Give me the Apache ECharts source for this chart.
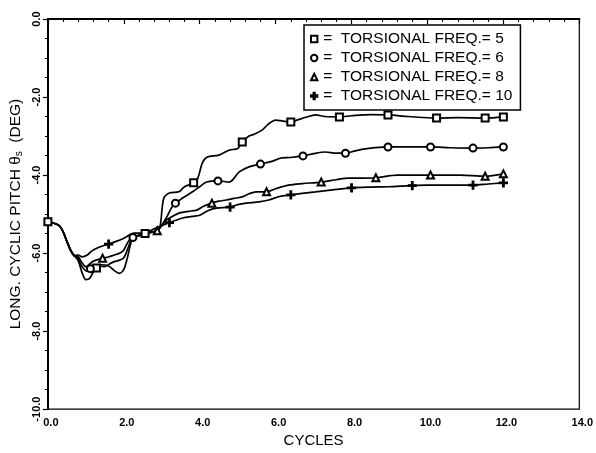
<!DOCTYPE html>
<html>
<head>
<meta charset="utf-8">
<script src="https://cdn.jsdelivr.net/npm/echarts@6/dist/echarts.min.js"></script>
<style>
html,body{margin:0;padding:0;background:#fff;}
#chart{width:596px;height:453px;}
</style>
</head>
<body>
<div id="chart"></div>
<script>
// Series names / legend
var seriesNames = ['=  TORSIONAL FREQ.= 5', '=  TORSIONAL FREQ.= 6', '=  TORSIONAL FREQ.= 8', '=  TORSIONAL FREQ.= 10'];
var xTicks = [0, 2, 4, 6, 8, 10, 12, 14];
var yTicks = [-10, -8, -6, -4, -2, 0];

// shared start of every curve [cycles, deg]
var startData = [[0,-5.2],[0.1,-5.22],[0.2,-5.25],[0.3,-5.3],[0.4,-5.45],[0.5,-5.7],[0.6,-5.93],[0.7,-6.07]];

var freq5 = [[0.8,-6.2],[0.9,-6.5],[1.0,-6.68],[1.1,-6.65],[1.2,-6.48],[1.28,-6.38],[1.4,-6.3],[1.6,-6.33],[1.75,-6.45],[1.88,-6.52],[2.0,-6.42],[2.1,-6.1],[2.2,-5.7],[2.3,-5.58],[2.45,-5.55],[2.56,-5.5],[2.7,-5.47],[2.85,-5.45],[2.95,-5.35],[3.05,-4.6],[3.2,-4.46],[3.45,-4.43],[3.6,-4.3],[3.84,-4.2],[3.95,-4.08],[4.07,-3.69],[4.2,-3.54],[4.5,-3.49],[4.78,-3.36],[5.0,-3.32],[5.12,-3.15],[5.3,-3.0],[5.45,-2.95],[5.64,-2.85],[5.8,-2.7],[6.0,-2.59],[6.2,-2.62],[6.4,-2.64],[6.6,-2.58],[6.8,-2.52],[7.05,-2.46],[7.3,-2.5],[7.68,-2.51],[8.0,-2.48],[8.5,-2.45],[8.96,-2.46],[9.5,-2.5],[10.24,-2.54],[10.8,-2.53],[11.52,-2.54],[12.0,-2.51]];

var freq6 = [[0.8,-6.15],[0.9,-6.35],[1.04,-6.47],[1.12,-6.4],[1.23,-6.3],[1.35,-6.33],[1.49,-6.35],[1.62,-6.28],[1.75,-6.22],[1.9,-6.18],[2.0,-6.12],[2.1,-5.9],[2.19,-5.67],[2.24,-5.6],[2.4,-5.55],[2.6,-5.49],[2.8,-5.45],[2.95,-5.35],[3.13,-5.08],[3.25,-4.85],[3.36,-4.72],[3.55,-4.59],[3.81,-4.43],[4.0,-4.3],[4.18,-4.18],[4.48,-4.15],[4.78,-4.18],[5.04,-3.92],[5.3,-3.79],[5.6,-3.72],[5.9,-3.65],[6.16,-3.56],[6.4,-3.55],[6.72,-3.51],[7.0,-3.45],[7.31,-3.41],[7.6,-3.44],[7.84,-3.44],[8.1,-3.38],[8.35,-3.33],[8.96,-3.28],[9.5,-3.28],[10.08,-3.28],[10.6,-3.3],[11.2,-3.31],[11.6,-3.3],[12.0,-3.28]];

var freq8 = [[0.8,-6.1],[0.9,-6.25],[1.0,-6.35],[1.1,-6.28],[1.17,-6.22],[1.3,-6.17],[1.44,-6.13],[1.6,-6.1],[1.75,-6.05],[1.9,-6.0],[2.0,-5.92],[2.14,-5.67],[2.3,-5.57],[2.5,-5.52],[2.7,-5.47],[2.88,-5.43],[3.0,-5.3],[3.13,-5.15],[3.3,-5.05],[3.47,-4.97],[3.7,-4.93],[3.92,-4.9],[4.1,-4.8],[4.32,-4.72],[4.5,-4.67],[4.7,-4.64],[4.9,-4.6],[5.12,-4.56],[5.3,-4.48],[5.48,-4.43],[5.76,-4.43],[6.0,-4.35],[6.34,-4.26],[6.7,-4.22],[7.2,-4.18],[7.6,-4.12],[7.91,-4.08],[8.3,-4.08],[8.64,-4.07],[9.2,-4.0],[9.6,-4.0],[10.08,-4.0],[10.86,-4.0],[11.52,-4.03],[12.0,-3.97]];

var freq10 = [[0.8,-6.05],[0.9,-6.1],[1.04,-6.05],[1.15,-5.95],[1.3,-5.87],[1.5,-5.8],[1.6,-5.77],[1.8,-5.7],[2.0,-5.62],[2.27,-5.49],[2.53,-5.49],[2.8,-5.38],[3.0,-5.3],[3.2,-5.22],[3.55,-5.1],[3.8,-5.06],[4.0,-5.03],[4.2,-4.92],[4.44,-4.85],[4.8,-4.82],[5.0,-4.76],[5.22,-4.72],[5.56,-4.69],[5.82,-4.64],[6.1,-4.55],[6.4,-4.51],[6.7,-4.47],[7.05,-4.43],[7.5,-4.38],[8.0,-4.33],[8.5,-4.31],[8.96,-4.3],[9.6,-4.27],[10.0,-4.26],[10.6,-4.26],[11.2,-4.26],[11.6,-4.23],[12.0,-4.2]];

// x positions carrying a marker symbol
var marks5 = [0,1.28,2.56,3.84,5.12,6.4,7.68,8.96,10.24,11.52,12];
var marks6 = [1.12,2.24,3.36,4.48,5.6,6.72,7.84,8.96,10.08,11.2,12];
var marks8 = [1.44,2.88,4.32,5.76,7.2,8.64,10.08,11.52,12];
var marks10 = [1.6,3.2,4.8,6.4,8.0,9.6,11.2,12];

var plusPath = 'path://M4,0H6V4H10V6H6V10H4V6H0V4H4Z';
var symbols = ['emptyRect', 'emptyCircle', 'emptyTriangle', plusPath];
var curves = [freq5, freq6, freq8, freq10];
var marks = [marks5, marks6, marks8, marks10];

function build(curve, mk) {
  var pts = startData.concat(curve);
  return pts.map(function (p) {
    var has = mk.some(function (m) { return Math.abs(m - p[0]) < 1e-6; });
    return has ? { value: p } : { value: p, symbol: 'none' };
  });
}

var series = curves.map(function (c, i) {
  return {
    name: seriesNames[i],
    type: 'line',
    data: build(c, marks[i]),
    symbol: symbols[i],
    symbolSize: i === 3 ? 8 : 7,
    showAllSymbol: true,
    smooth: 0.3,
    lineStyle: { color: '#000', width: 1.7 },
    itemStyle: { color: '#000', borderColor: '#000', borderWidth: 1.2 },
    emphasis: { disabled: true },
    z: 3
  };
});

var chart = echarts.init(document.getElementById('chart'), null, { renderer: 'canvas' });
var fontFam = '"Liberation Sans", Arial, sans-serif';
chart.setOption({
  animation: false,
  backgroundColor: '#fff',
  grid: { left: 47, right: 13, top: 19, bottom: 43, show: true, borderColor: '#000', borderWidth: 1.2, backgroundColor: 'transparent' },
  legend: {
    left: 304, top: 25,
    orient: 'vertical',
    data: seriesNames,
    padding: [6, 8, 6, 6],
    itemGap: 3,
    itemWidth: 8, itemHeight: 8,
    borderColor: '#000', borderWidth: 1.5,
    backgroundColor: '#fff',
    lineStyle: { width: 0, opacity: 0 },
    selectedMode: false,
    textStyle: { fontFamily: fontFam, fontSize: 15.5, color: '#000', lineHeight: 15, padding: [0, 0, 0, 0] }
  },
  xAxis: {
    type: 'value', min: 0, max: 14, interval: 2,
    name: 'CYCLES', nameLocation: 'middle', nameGap: 23,
    nameTextStyle: { fontFamily: fontFam, fontSize: 15, color: '#000' },
    axisLine: { lineStyle: { color: '#000', width: 2 } },
    axisTick: { show: true, inside: false, length: 5, lineStyle: { color: '#000', width: 1.2 } },
    minorTick: { show: true, splitNumber: 5, length: 3, lineStyle: { color: '#000', width: 1 } },
    splitLine: { show: false },
    axisLabel: { fontFamily: fontFam, fontSize: 11, fontWeight: 'bold', color: '#000', margin: 8, padding: [0, 0, 0, 6],
      formatter: function (v) { return v.toFixed(1); } }
  },
  yAxis: {
    type: 'value', min: -10, max: 0, interval: 2,
    name: 'LONG. CYCLIC PITCH θ{sub|s}  (DEG)', nameLocation: 'middle', nameGap: 22, nameRotate: 90,
    nameTextStyle: { fontFamily: fontFam, fontSize: 15.5, color: '#000',
      rich: { sub: { fontFamily: fontFam, fontSize: 10, color: '#000', verticalAlign: 'bottom', padding: [6, 0, 0, 0] } } },
    axisLine: { lineStyle: { color: '#000', width: 2 } },
    axisTick: { show: true, inside: false, length: 5, lineStyle: { color: '#000', width: 1.2 } },
    minorTick: { show: true, splitNumber: 4, length: 3, lineStyle: { color: '#000', width: 1 } },
    splitLine: { show: false },
    axisLabel: { fontFamily: fontFam, fontSize: 11, fontWeight: 'bold', color: '#000', margin: 5, rotate: 90,
      formatter: function (v) { return v.toFixed(1); } }
  },
  series: series
});
</script>
</body>
</html>
